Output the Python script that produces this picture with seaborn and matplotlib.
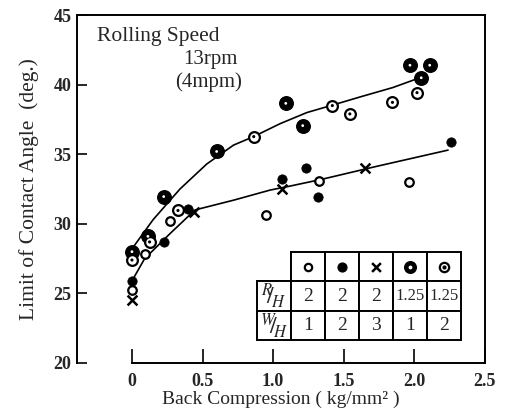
import numpy as np
import pandas as pd
import matplotlib
matplotlib.use("Agg")
import matplotlib.pyplot as plt
import seaborn as sns

# --- DATA ---
# R/H=1.25, W/H=1  (black disc with small white dot)
bigdot_x = [0.0, 0.113, 0.225, 0.60, 1.09, 1.21, 1.97, 2.05, 2.11]
bigdot_y = [28.0, 29.1, 31.96, 35.2, 38.66, 37.06, 41.4, 40.5, 41.4]
# R/H=1.25, W/H=2  (open circle with centre dot)
dotcirc_x = [0.0, 0.125, 0.326, 0.863, 1.42, 1.544, 1.846, 2.02]
dotcirc_y = [27.4, 28.7, 30.96, 36.27, 38.5, 37.9, 38.73, 39.43]
# R/H=2, W/H=1  (open circle)
open_x = [0.0, 0.09, 0.267, 0.953, 1.324, 1.965]
open_y = [25.26, 27.85, 30.24, 30.65, 33.1, 33.04]
# R/H=2, W/H=2  (filled circle)
filled_x = [0.0, 0.225, 0.397, 1.06, 1.236, 1.32, 2.26]
filled_y = [25.86, 28.68, 31.05, 33.23, 34.0, 31.9, 35.9]
# R/H=2, W/H=3  (cross)
cross_x = [0.0, 0.437, 1.066, 1.65]
cross_y = [24.55, 30.84, 32.49, 34.0]

# hand-drawn trend curves
upper_x = [0.0, 0.05, 0.15, 0.34, 0.53, 0.72, 0.86, 1.05, 1.24, 1.42, 1.62, 1.85, 2.04]
upper_y = [28.2, 28.9, 30.3, 32.5, 34.3, 35.66, 36.26, 37.2, 38.0, 38.53, 39.13, 39.8, 40.5]
lower_x = [0.0, 0.09, 0.27, 0.447, 0.72, 0.98, 1.10, 1.345, 1.57, 1.72, 2.24]
lower_y = [25.9, 27.5, 29.3, 31.0, 31.7, 32.43, 32.67, 33.2, 33.74, 34.1, 35.3]

# inset table
rh_values = ["2", "2", "2", "1.25", "1.25"]
wh_values = ["1", "2", "3", "1", "2"]

sns.set_style("ticks")
plt.rcParams['font.family'] = ['Liberation Serif', 'DejaVu Serif']
plt.rcParams['mathtext.fontset'] = 'stix'

fig = plt.figure(figsize=(5.06, 4.09), dpi=100)
ax = fig.add_axes([0.152, 0.1125, 0.806, 0.8505])

# curves
for cx, cy in [(upper_x, upper_y), (lower_x, lower_y)]:
    sns.lineplot(x=cx, y=cy, ax=ax, color='black', linewidth=1.2,
                 sort=False, estimator=None, zorder=2)

# markers
sns.scatterplot(x=bigdot_x, y=bigdot_y, ax=ax, s=95, color='black',
                edgecolor='black', linewidth=1, zorder=3)
sns.scatterplot(x=bigdot_x, y=bigdot_y, ax=ax, s=4, color='white',
                edgecolor='none', zorder=4)
sns.scatterplot(x=dotcirc_x, y=dotcirc_y, ax=ax, s=60, color='white',
                edgecolor='black', linewidth=1.6, zorder=3)
sns.scatterplot(x=dotcirc_x, y=dotcirc_y, ax=ax, s=5, color='black',
                edgecolor='none', zorder=4)
sns.scatterplot(x=open_x, y=open_y, ax=ax, s=38, color='white',
                edgecolor='black', linewidth=1.6, zorder=3)
sns.scatterplot(x=filled_x, y=filled_y, ax=ax, s=45, color='black',
                edgecolor='black', zorder=3)
sns.scatterplot(x=cross_x, y=cross_y, ax=ax, s=50, marker='x', color='black',
                linewidth=1.8, zorder=3)

ax.set_xlim(-0.39, 2.5)
ax.set_ylim(20, 45)
ax.set_xticks([0, 0.5, 1.0, 1.5, 2.0, 2.5])
ax.set_xticklabels(['0', '0.5', '1.0', '1.5', '2.0', '2.5'])
ax.set_yticks([20, 25, 30, 35, 40, 45])
ax.spines['bottom'].set_bounds(0, 2.5)
for sp in ax.spines.values():
    sp.set_linewidth(1.4)
    sp.set_color('black')
ax.tick_params(axis='x', direction='in', length=10, width=1.4, pad=7,
               labelsize=13)
ax.tick_params(axis='y', direction='in', length=7, width=1.4, pad=4,
               labelsize=13)
for lab in ax.get_xticklabels() + ax.get_yticklabels():
    lab.set_fontweight('bold')

ax.set_xlabel('Back Compression ( kg/mm\u00b2 )', fontsize=14, labelpad=1)
ax.set_ylabel('Limit of Contact Angle  (deg.)', fontsize=15.5, labelpad=10)

ax.text(0.05, 0.94, 'Rolling Speed', transform=ax.transAxes, fontsize=15.5,
        ha='left', va='center')
ax.text(0.327, 0.872, '13rpm', transform=ax.transAxes, fontsize=15,
        ha='center', va='center')
ax.text(0.322, 0.808, '(4mpm)', transform=ax.transAxes, fontsize=15,
        ha='center', va='center')

# inset table
tb_left, tb_bottom, tb_w, tb_h = 0.441, 0.066, 0.5, 0.253
cells = [[""] * 6,
         [r"$^{R}\!\!/\!_{H}$"] + rh_values,
         [r"$^{W}\!\!/\!_{H}$"] + wh_values]
tbl = ax.table(cellText=cells, bbox=[tb_left, tb_bottom, tb_w, tb_h],
               cellLoc='center')
tbl.auto_set_font_size(False)
tbl.set_fontsize(14)
tbl.set_zorder(5)
for (r, c), cell in tbl.get_celld().items():
    cell.set_linewidth(1.4)
    cell.set_edgecolor('black')
    cell.PAD = 0.05
tbl[0, 0].visible_edges = 'BR'
tbl[1, 0].get_text().set_fontsize(17)
tbl[2, 0].get_text().set_fontsize(17)
tbl[1, 4].get_text().set_fontsize(12)
tbl[1, 5].get_text().set_fontsize(12)

# legend keys in the header row
col_w = tb_w / 6
row_h = tb_h / 3
key_y = tb_bottom + tb_h - row_h / 2
kx = [tb_left + (i + 1.5) * col_w for i in range(5)]
kw = dict(transform=ax.transAxes, clip_on=False, zorder=6)
ax.scatter([kx[0]], [key_y], s=28, facecolor='white', edgecolor='black', linewidth=1.6, **kw)
ax.scatter([kx[1]], [key_y], s=40, color='black', **kw)
ax.scatter([kx[2]], [key_y], s=40, marker='x', color='black', linewidth=1.8, **kw)
ax.scatter([kx[3]], [key_y], s=70, color='black', **kw)
ax.scatter([kx[3]], [key_y], s=3, color='white', zorder=7, transform=ax.transAxes, clip_on=False)
ax.scatter([kx[4]], [key_y], s=45, facecolor='white', edgecolor='black', linewidth=1.6, **kw)
ax.scatter([kx[4]], [key_y], s=4, color='black', zorder=7, transform=ax.transAxes, clip_on=False)

fig.savefig('out.png', dpi=100, facecolor='white')
